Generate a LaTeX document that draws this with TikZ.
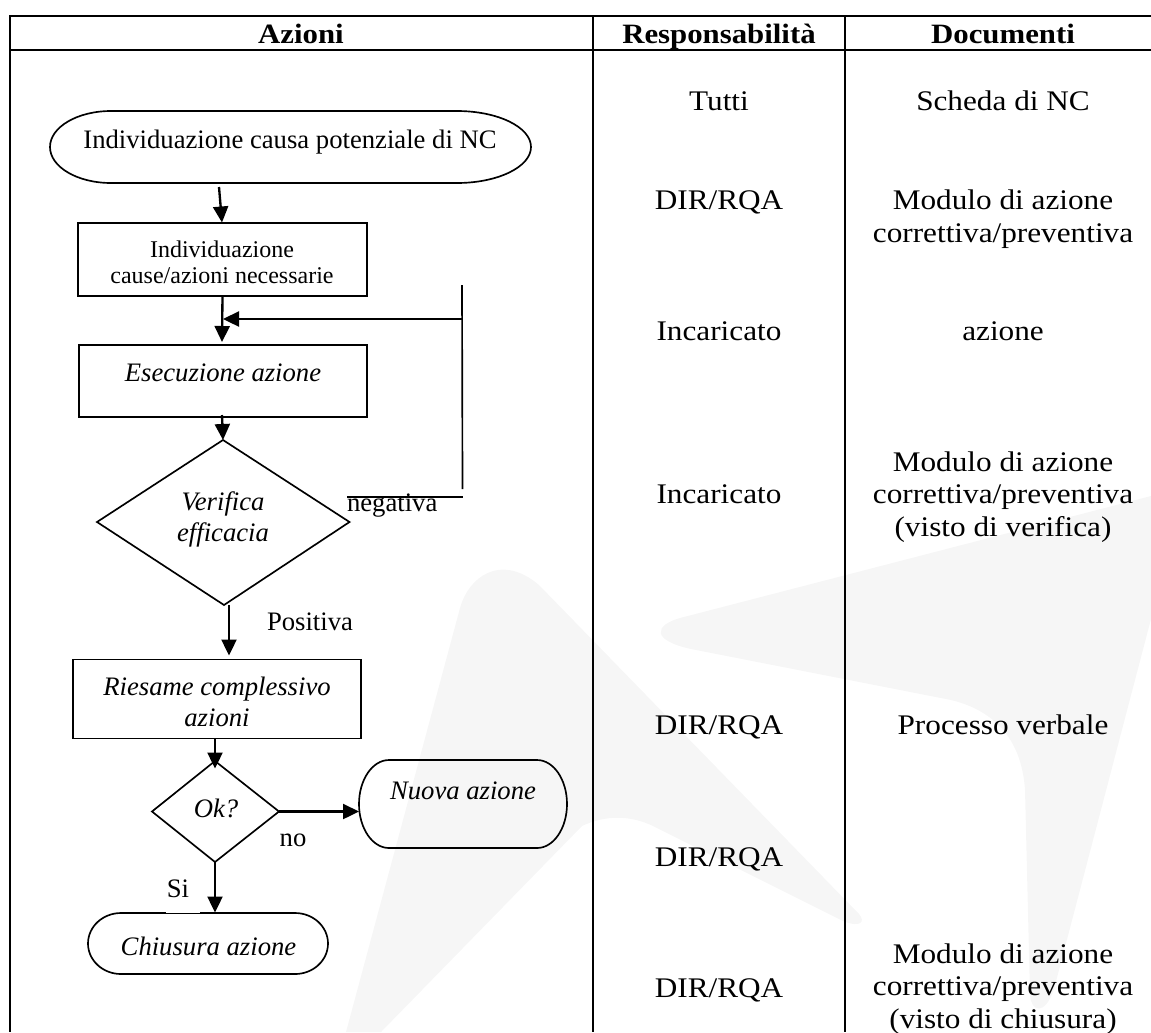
\documentclass[tikz,border=0pt]{standalone}
\usepackage{fontspec}
\setmainfont{Liberation Serif}
\newfontfamily\docfont[FakeStretch=1.10]{Liberation Serif}
\usetikzlibrary{arrows.meta,calc}
\definecolor{wm}{HTML}{F6F6F6}
\newlength{\pxu}\setlength{\pxu}{0.75pt}
\tikzset{
  every node/.style={inner sep=0pt,outer sep=0pt},
  rule/.style={line width=1.5pt,black},
  shapeline/.style={line width=1.25pt,black},
  flow/.style={line width=1.75pt,black,-{Triangle[length=12pt,width=11.25pt]}},
  hdr/.style={anchor=base,font=\docfont\bfseries\fontsize{21}{24}\selectfont},
  cell/.style={anchor=base,align=center,font=\docfont\fontsize{21.3}{24.3}\selectfont},
  txt/.style={anchor=base,align=center,font=\fontsize{20}{22}\selectfont},
  small/.style={anchor=base,align=center,font=\fontsize{18}{19.5}\selectfont},
  lab/.style={font=\fontsize{20}{22}\selectfont},
  itxt/.style={anchor=base,align=center,font=\itshape\fontsize{20}{22.8}\selectfont},
  boxnode/.style={draw,shapeline,rectangle},
}
% terminator outline with elliptical ends around a named rectangular node
% (the picture's y axis points down, so the angles run clockwise on the page)
\newcommand{\terminator}[3]{%
  \draw[shapeline] ($(#1.north west)+(#2,-#3)$) -- ($(#1.north east)+(-#2,-#3)$)
    arc[start angle=-90,end angle=0,x radius=#2,y radius=#3]
    arc[start angle=0,end angle=90,x radius=#2,y radius=#3]
    -- ($(#1.south west)+(#2,#3)$)
    arc[start angle=90,end angle=180,x radius=#2,y radius=#3]
    arc[start angle=180,end angle=270,x radius=#2,y radius=#3] -- cycle;}
\begin{document}
\begin{tikzpicture}[x=\pxu,y=-\pxu]
\useasboundingbox (0,0) rectangle (1151,1032);
% watermark
\fill[wm] (346,1032) -- (460,608)
  .. controls (468,578) and (500,552) .. (539,585)
  -- (859,914) .. controls (866,922) and (860,928) .. (843,921)
  -- (653,826) .. controls (630,815) and (605,815) .. (582,826)
  -- (381,1032) -- cycle;
\fill[wm] (1151,496) -- (680,618)
  .. controls (655,625) and (650,640) .. (691,649)
  -- (951,700) .. controls (1000,712) and (1022,745) .. (1025,790)
  -- (1030,995) .. controls (1031,1012) and (1045,1016) .. (1054,989)
  -- (1151,619) -- cycle;
% table
\coordinate (tl) at (10,16); \coordinate (tr) at (1151,16);
\coordinate (hl) at (10,50); \coordinate (hr) at (1151,50);
\coordinate (bl) at (10,1032); \coordinate (c1t) at (593,16);
\coordinate (c1b) at (593,1032); \coordinate (c2t) at (845,16);
\coordinate (c2b) at (845,1032);
\draw[rule] (tl) -- (tr); \draw[rule] (hl) -- (hr);
\draw[rule] ($(tl)+(0,-1)$) -- (bl);
\draw[rule] ($(c1t)+(0,-1)$) -- (c1b);
\draw[rule] ($(c2t)+(0,-1)$) -- (c2b);
% headers
\node[hdr] (h1) at (301,43) {Azioni};
\node[hdr] (h2) at (719,43) {Responsabilità};
\node[hdr] (h3) at (1003,43) {Documenti};
% responsabilita
\node[cell] (r1) at (719,110) {Tutti};
\node[cell] (r2) at (719,209) {DIR/RQA};
\node[cell] (r3) at (719,340) {Incaricato};
\node[cell] (r4) at (719,503) {Incaricato};
\node[cell] (r5) at (719,734) {DIR/RQA};
\node[cell] (r6) at (719,866) {DIR/RQA};
\node[cell] (r7) at (719,997) {DIR/RQA};
% documenti (a many-line node's base is its last line)
\node[cell] (d1) at (1003,110) {Scheda di NC};
\node[cell] (d2) at (1003,242) {Modulo di azione\\correttiva/preventiva};
\node[cell] (d3) at (1003,340) {azione};
\node[cell] (d4) at (1003,536) {Modulo di azione\\correttiva/preventiva\\(visto di verifica)};
\node[cell] (d5) at (1003,734) {Processo verbale};
\node[cell] (d6) at (1003,1028) {Modulo di azione\\correttiva/preventiva\\(visto di chiusura)};
% flow shapes
\draw[shapeline] (111,111) -- (457,111)
  arc[start angle=-90,end angle=0,x radius=74,y radius=36]
  arc[start angle=0,end angle=90,x radius=74,y radius=36]
  -- (111,183)
  arc[start angle=90,end angle=180,x radius=61,y radius=36]
  arc[start angle=180,end angle=270,x radius=61,y radius=36] -- cycle;
\node[txt] (startt) at (290,148) {Individuazione causa potenziale di NC};
\node[boxnode,minimum width=289\pxu,minimum height=73\pxu] (b1) at (222.5,259.5) {};
\node[small] (b1t) at (222,283) {Individuazione\\cause/azioni necessarie};
\node[boxnode,minimum width=288\pxu,minimum height=72\pxu] (b2) at (223,381) {};
\node[itxt] (b2t) at (223,381) {Esecuzione azione};
\coordinate (dN) at (223,440); \coordinate (dW) at (97,522);
\coordinate (dE) at (349.5,522); \coordinate (dS) at (224,605);
\draw[shapeline] (dN) -- (dE) -- (dS) -- (dW) -- cycle;
\node[itxt] (d1t) at (223,541) {Verifica\\efficacia};
\node[boxnode,minimum width=288\pxu,minimum height=79\pxu] (b3) at (217,699) {};
\node[itxt] (b3t) at (217,726) {Riesame complessivo\\azioni};
\coordinate (oN) at (215,761); \coordinate (oW) at (152,811.5);
\coordinate (oE) at (279,811.5); \coordinate (oS) at (215,862);
\draw[shapeline] (oN) -- (oE) -- (oS) -- (oW) -- cycle;
\node[itxt] (o1t) at (216,817) {Ok?};
% terminators
\node[minimum width=208\pxu,minimum height=0pt] (nuova) at (463,804) {};
\terminator{nuova}{30}{44}
\node[itxt] (nuovat) at (463,799) {Nuova azione};
\node[minimum width=240\pxu,minimum height=0pt] (chius) at (208,943.5) {};
\terminator{chius}{33}{30.5}
\node[itxt] (chiust) at (208.5,955) {Chiusura azione};
% labels
\node[lab,anchor=base west] (neg) at (347,511) {negativa};
\node[lab,anchor=base west] (pos) at (267,630) {Positiva};
\node[lab,anchor=base] (no) at (293,846) {no};
\fill[white] (166,905) rectangle (200,915);
\draw[line width=.6pt] (166,913.4) -- (200,913.4);
\node[lab,anchor=base] (si) at (178,897) {Si};
% connectors
\coordinate (a1s) at (219,187); \coordinate (a1e) at (222,222.5);
\draw[flow] (a1s) -- (a1e);
\draw[flow] (b1.south) -- ($(b2.north)+(-1,-3)$);
\coordinate (fbTop) at (462,285); \coordinate (fbBot) at (462.5,489);
\coordinate (fbMid) at (462,319);
\draw[shapeline] (fbTop) -- (fbBot);
\draw[flow] (fbMid) -- (223,319);
\coordinate (negL) at (347,497); \coordinate (negR) at (463,497);
\draw[shapeline] (negL) -- (negR);
\draw[flow] ($(b2.south)+(-1,-2)$) -- (dN);
\draw[flow] (229,605) -- (229,655.5);
\draw[flow] (215,738.5) -- (215,768.5);
\draw[flow] (oE) -- (359,811.5);
\draw[flow] (oS) -- (215,912.5);
\end{tikzpicture}
\end{document}
